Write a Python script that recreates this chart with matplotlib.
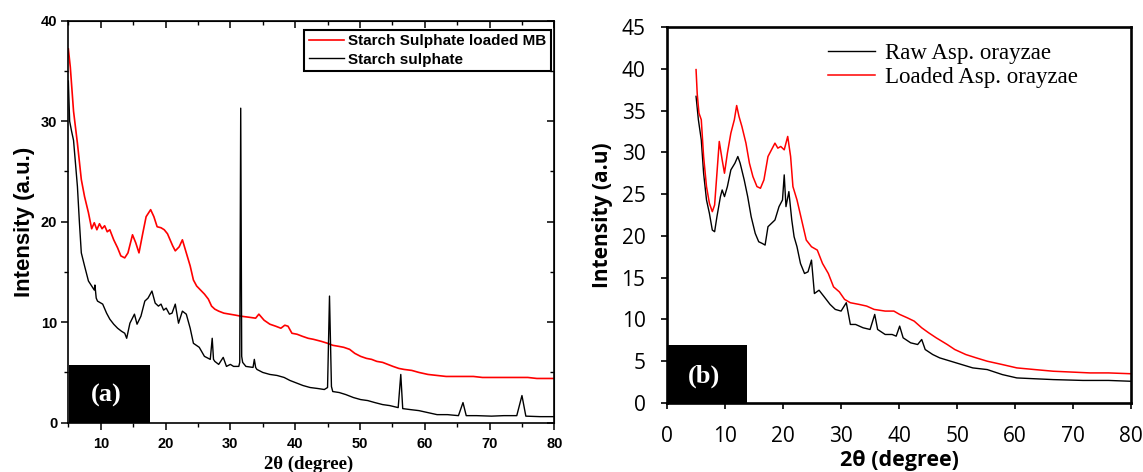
import matplotlib
matplotlib.use("Agg")
import matplotlib.pyplot as plt
from matplotlib.ticker import MultipleLocator
from matplotlib.patches import Rectangle

# ---------------- data: panel (a) ----------------
a_red_x = [5.0, 5.3, 5.8, 6.4, 7.0, 7.5, 8.1, 8.6, 9.0, 9.4, 9.8, 10.2, 10.6, 11.0, 11.4, 12.0, 12.6, 13.1,
           13.7, 14.2, 14.9, 15.4, 15.9, 16.5, 17.0, 17.7, 18.2, 18.7, 19.3, 19.8, 20.3, 20.7, 21.1, 21.5,
           22.1, 22.6, 23.2, 23.8, 24.3, 24.8, 25.4, 26.0, 26.6, 27.1, 27.6, 28.2, 29.0, 29.9, 30.8, 31.6,
           32.8, 33.9, 34.4, 35.2, 36.1, 37.0, 37.8, 38.4, 38.9, 39.5, 40.3, 41.1, 42.0, 42.8, 44.0, 45.0,
           45.8, 46.7, 47.5, 48.4, 49.2, 50.1, 51.0, 51.8, 52.6, 53.5, 54.3, 55.1, 56.0, 56.8, 58.0, 59.1,
           60.5, 61.9, 63.3, 64.7, 66.1, 67.5, 68.9, 70.3, 71.7, 73.1, 74.5, 75.9, 77.3, 78.7, 80.0]
a_red_y = [37.2, 35.4, 31.0, 27.8, 24.2, 22.5, 20.9, 19.3, 19.9, 19.2, 19.8, 19.3, 19.6, 19.0, 19.2, 18.2, 17.4, 16.6,
           16.4, 16.9, 18.7, 17.9, 16.9, 18.9, 20.5, 21.2, 20.5, 19.5, 19.4, 19.2, 18.8, 18.2, 17.6, 17.1,
           17.5, 18.2, 16.9, 15.6, 14.2, 13.6, 13.2, 12.8, 12.3, 11.6, 11.3, 11.1, 10.9, 10.8, 10.7, 10.6,
           10.5, 10.4, 10.8, 10.2, 9.8, 9.6, 9.4, 9.7, 9.6, 8.9, 8.8, 8.6, 8.4, 8.3, 8.1, 7.9,
           7.7, 7.6, 7.5, 7.3, 6.9, 6.6, 6.4, 6.3, 6.1, 6.0, 5.8, 5.6, 5.4, 5.3, 5.2, 5.0,
           4.8, 4.7, 4.6, 4.6, 4.6, 4.6, 4.5, 4.5, 4.5, 4.5, 4.5, 4.5, 4.4, 4.4, 4.4]

a_blk_x = [5.0, 5.2, 5.5, 5.8, 6.1, 6.4, 6.7, 7.0, 7.5, 8.1, 8.6, 9.0, 9.1, 9.3, 9.5, 10.3, 10.9, 11.4, 12.0,
           12.6, 13.2, 13.7, 14.0, 14.5, 15.2, 15.6, 16.2, 16.8, 17.3, 17.9, 18.4, 18.9, 19.3, 19.7, 20.1,
           20.6, 21.0, 21.5, 22.0, 22.6, 23.2, 23.8, 24.3, 25.2, 26.0, 26.9, 27.2, 27.4, 27.6, 28.2, 28.9,
           29.4, 30.0, 30.5, 31.3, 31.45, 31.6, 31.75, 31.9, 32.4, 33.5, 33.7, 33.9, 34.1, 35.0, 36.1, 37.2,
           38.3, 39.2, 40.0, 41.2, 42.3, 43.5, 44.5, 45.0, 45.3, 45.6, 45.8, 46.8, 47.8, 49.0, 50.1, 51.2,
           52.3, 53.5, 54.6, 55.9, 56.3, 56.6, 57.8, 59.1, 60.5, 61.9, 63.5, 65.2, 65.9, 66.4, 68.0, 70.3,
           72.2, 74.2, 75.0, 75.6, 77.8, 80.0]
a_blk_y = [34.0, 30.0, 29.0, 28.1, 25.8, 23.5, 20.0, 16.9, 15.6, 14.1, 13.6, 13.2, 13.7, 12.4, 12.1, 11.8, 10.9, 10.3, 9.8,
           9.4, 9.1, 8.9, 8.4, 9.9, 10.8, 9.8, 10.6, 12.1, 12.4, 13.1, 11.9, 11.6, 11.8, 11.2, 11.4,
           10.8, 10.9, 11.8, 9.9, 11.1, 10.8, 9.4, 7.9, 7.5, 6.6, 6.3, 8.4, 6.3, 6.1, 5.8, 6.5,
           5.6, 5.8, 5.6, 5.6, 6.0, 31.3, 6.6, 6.0, 5.6, 5.5, 6.3, 5.5, 5.3, 5.0, 4.8, 4.7,
           4.5, 4.2, 4.0, 3.7, 3.5, 3.4, 3.3, 3.5, 12.6, 3.6, 3.1, 3.0, 2.8, 2.5, 2.3, 2.2,
           2.0, 1.8, 1.7, 1.5, 4.8, 1.4, 1.3, 1.2, 1.0, 0.8, 0.8, 0.7, 2.0, 0.7, 0.7, 0.65,
           0.7, 0.7, 2.7, 0.65, 0.6, 0.6]

# ---------------- data: panel (b) ----------------
b_red_x = [5.0, 5.2, 5.5, 5.9, 6.3, 6.8, 7.3, 7.8, 8.2, 8.6, 9.0, 9.5, 9.9, 10.4, 11.0, 11.6, 12.0, 12.4, 12.9,
           13.6, 14.2, 14.8, 15.5, 16.1, 16.7, 17.4, 18.0, 18.6, 19.1, 19.6, 20.2, 20.8, 21.3, 21.7, 22.4,
           23.2, 24.0, 24.9, 25.9, 26.8, 27.8, 28.7, 29.7, 30.6, 31.6, 33.1, 34.4, 35.7, 37.6, 39.1, 40.1,
           41.4, 42.6, 43.9, 45.1, 46.4, 48.3, 49.6, 51.5, 53.3, 55.2, 57.8, 60.3, 63.4, 66.6, 69.8, 72.9,
           76.1, 80.0]
b_red_y = [39.9, 37.0, 34.7, 33.9, 29.5, 25.9, 23.9, 22.9, 23.7, 27.5, 31.3, 29.1, 27.5, 29.9, 32.3, 33.9, 35.6, 34.3, 33.1,
           31.1, 28.7, 27.1, 25.9, 25.7, 26.7, 29.5, 30.3, 31.1, 30.5, 30.7, 30.3, 31.9, 29.5, 25.9, 24.3,
           21.9, 19.5, 18.7, 18.3, 16.7, 15.5, 13.9, 13.3, 12.4, 12.0, 11.8, 11.6, 11.2, 11.0, 11.0, 10.6,
           10.2, 9.8, 9.0, 8.4, 7.8, 7.0, 6.4, 5.8, 5.4, 5.0, 4.6, 4.2, 4.0, 3.8, 3.7, 3.6,
           3.6, 3.5]

b_blk_x = [5.0, 5.4, 5.9, 6.3, 6.8, 7.3, 7.8, 8.2, 8.6, 9.2, 9.5, 9.9, 10.4, 11.0, 11.7, 12.2, 12.6, 13.3, 13.9,
           14.5, 15.2, 15.8, 16.4, 16.9, 17.4, 18.0, 18.6, 19.3, 19.9, 20.2, 20.5, 21.0, 21.5, 21.9, 22.4,
           23.0, 23.7, 24.3, 24.9, 25.4, 26.2, 27.1, 28.1, 29.0, 30.0, 30.9, 31.6, 32.5, 33.8, 35.0, 35.8,
           36.3, 37.6, 38.8, 39.5, 40.1, 40.7, 42.0, 43.2, 43.9, 44.5, 45.8, 47.0, 48.9, 50.8, 52.7, 55.2,
           57.8, 60.3, 63.4, 66.6, 71.7, 76.1, 80.0]
b_blk_y = [36.7, 33.9, 31.5, 27.5, 24.3, 22.7, 20.7, 20.5, 22.3, 24.7, 25.5, 24.7, 25.9, 27.9, 28.7, 29.5, 28.7, 26.7, 24.7,
           22.3, 20.3, 19.3, 19.1, 18.9, 21.1, 21.5, 21.9, 23.5, 24.3, 27.3, 23.5, 25.3, 21.9, 19.9, 18.7,
           16.7, 15.5, 15.7, 17.1, 13.1, 13.5, 12.7, 11.8, 11.2, 11.0, 12.0, 9.4, 9.4, 9.0, 8.8, 10.6,
           8.8, 8.2, 8.2, 8.0, 9.2, 7.8, 7.2, 7.0, 7.6, 6.4, 5.8, 5.4, 5.0, 4.6, 4.2, 4.0,
           3.4, 3.0, 2.9, 2.8, 2.7, 2.7, 2.6]

a_labels = ["Starch Sulphate loaded MB", "Starch sulphate"]
b_labels = ["Raw Asp. orayzae", "Loaded Asp. orayzae"]

SANS = "Liberation Sans"
SERIF = "Liberation Serif"
SANS_B = "Open Sans"

fig = plt.figure(figsize=(11.43, 4.72), dpi=100)

# ---------------- panel (a) ----------------
axa = fig.add_axes([0.0598, 0.1045, 0.4252, 0.8515])
axa.plot(a_red_x, a_red_y, color="#ff0000", lw=1.2, label=a_labels[0])
axa.plot(a_blk_x, a_blk_y, color="black", lw=1.0, label=a_labels[1])
axa.set_xlim(5, 80)
axa.set_ylim(0, 40)
axa.set_xticks([10, 20, 30, 40, 50, 60, 70, 80])
axa.set_yticks([0, 10, 20, 30, 40])
axa.xaxis.set_minor_locator(MultipleLocator(5))
axa.yaxis.set_minor_locator(MultipleLocator(5))
axa.tick_params(which="major", direction="out", length=5, width=1.1)
axa.tick_params(which="minor", direction="out", length=3, width=1.0)
axa.tick_params(axis="x", which="major", pad=5)
axa.tick_params(axis="y", which="major", pad=3)
for lab in axa.get_xticklabels() + axa.get_yticklabels():
    lab.set_fontfamily(SANS)
    lab.set_fontweight("bold")
    lab.set_fontsize(10.5)
for s in axa.spines.values():
    s.set_linewidth(1.2)
sx = axa.secondary_xaxis("top")
sx.set_xticks([10, 20, 30, 40, 50, 60, 70, 80])
sx.xaxis.set_minor_locator(MultipleLocator(5))
sx.tick_params(which="major", direction="in", length=5, width=1.1, labeltop=False)
sx.tick_params(which="minor", direction="in", length=3, width=1.0)
sy = axa.secondary_yaxis("right")
sy.set_yticks([0, 10, 20, 30, 40])
sy.yaxis.set_minor_locator(MultipleLocator(5))
sy.tick_params(which="major", direction="in", length=5, width=1.1, labelright=False)
sy.tick_params(which="minor", direction="in", length=3, width=1.0)

axa.set_ylabel("Intensity (a.u.)", fontfamily=SANS, fontweight="bold", fontsize=16, labelpad=4)
fig.text(0.270, 0.006, "2\u03b8 (degree)", fontfamily=SERIF, fontweight="bold", fontsize=13.5,
         ha="center", va="baseline")

leg = axa.legend(loc="upper right", bbox_to_anchor=(0.9926, 0.978), frameon=True, fancybox=False,
                 edgecolor="black", framealpha=1, borderpad=0.3, handlelength=2.3, handletextpad=0.25,
                 labelspacing=0.3, borderaxespad=0,
                 prop={"family": SANS, "weight": "bold", "size": 11})
leg.get_frame().set_linewidth(1.5)

axa.add_patch(Rectangle((0.002, 0.0), 0.166, 0.143, transform=axa.transAxes, facecolor="black",
                        edgecolor="none", zorder=5))
axa.text(0.077, 0.068, "(a)", transform=axa.transAxes, color="white", fontfamily=SERIF,
         fontweight="bold", fontsize=19, ha="center", va="center", zorder=6)

# ---------------- panel (b) ----------------
axb = fig.add_axes([0.5836, 0.1462, 0.406, 0.7966])
l1, = axb.plot(b_blk_x, b_blk_y, color="black", lw=1.0)
l2, = axb.plot(b_red_x, b_red_y, color="#ff0000", lw=1.1)
axb.set_xlim(0, 80)
axb.set_ylim(0, 45)
axb.set_xticks([0, 10, 20, 30, 40, 50, 60, 70, 80])
axb.set_yticks([0, 5, 10, 15, 20, 25, 30, 35, 40, 45])
axb.tick_params(direction="out", length=4.5, width=1.2)
axb.tick_params(axis="x", pad=12)
axb.tick_params(axis="y", pad=11)
for lab in axb.get_xticklabels() + axb.get_yticklabels():
    lab.set_fontfamily(SANS_B)
    lab.set_fontsize(15)
for s in axb.spines.values():
    s.set_linewidth(1.9)
axb.set_ylabel("Intensity (a.u)", fontfamily=SANS_B, fontweight="bold", fontsize=15, labelpad=6)
axb.set_xlabel("2\u03b8 (degree)", fontfamily=SANS_B, fontweight="bold", fontsize=15.5, va="center")
axb.xaxis.set_label_coords(0.5, -0.152)
axb.legend([l1, l2], b_labels, loc="upper left", bbox_to_anchor=(0.347, 0.957), frameon=False,
           handlelength=2.05, handletextpad=0.44, labelspacing=0.14, borderaxespad=0, borderpad=0,
           prop={"family": SERIF, "size": 16.5})

axb.add_patch(Rectangle((0.003, 0.0), 0.17, 0.153, transform=axb.transAxes, facecolor="black",
                        edgecolor="none", zorder=5))
axb.text(0.08, 0.072, "(b)", transform=axb.transAxes, color="white", fontfamily=SERIF,
         fontweight="bold", fontsize=19, ha="center", va="center", zorder=6)

fig.savefig("out.png", dpi=100)
